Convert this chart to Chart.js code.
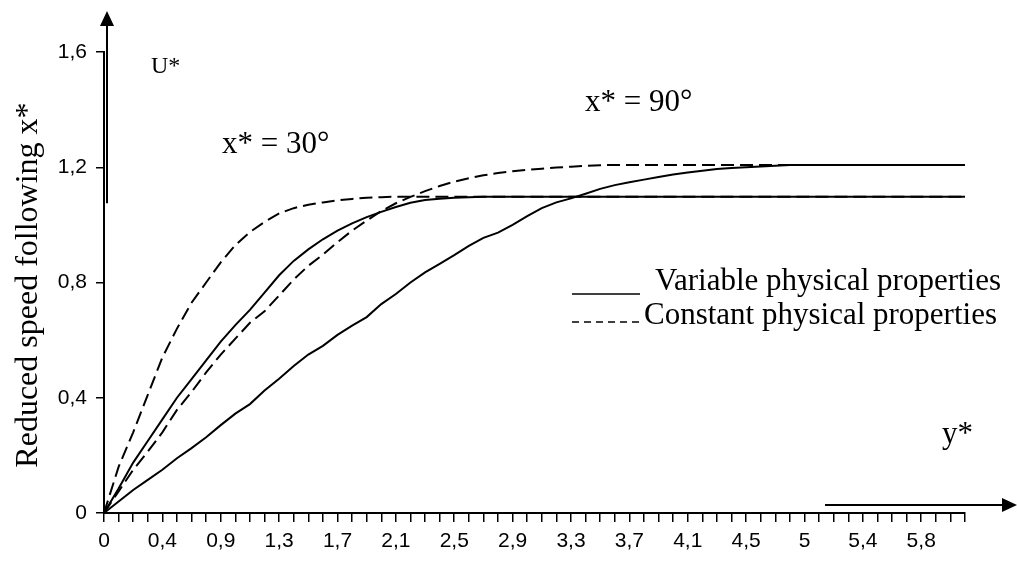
<!DOCTYPE html>
<html>
<head>
<meta charset="utf-8">
<script src="https://cdn.jsdelivr.net/npm/chart.js@4.4.0/dist/chart.umd.min.js"></script>
<style>
  html, body { margin: 0; padding: 0; background: #fff; }
  #wrap { width: 1017px; height: 561px; position: relative; }
</style>
</head>
<body>
<div id="wrap"><canvas id="speed"></canvas></div>
<script>
// y* categories (only every 4th one is labelled on the axis)
const yStar = [
  '0', '0,1', '0,2', '0,3', '0,4', '0,5', '0,6', '0,8', '0,9', '1',
  '1,1', '1,2', '1,3', '1,4', '1,5', '1,6', '1,7', '1,8', '1,9', '2',
  '2,1', '2,2', '2,3', '2,4', '2,5', '2,6', '2,7', '2,8', '2,9', '3',
  '3,1', '3,2', '3,3', '3,4', '3,5', '3,6', '3,7', '3,8', '3,9', '4',
  '4,1', '4,2', '4,3', '4,4', '4,5', '4,6', '4,7', '4,9', '5', '5,1',
  '5,2', '5,3', '5,4', '5,5', '5,6', '5,7', '5,8', '5,9', '6', '6,1'
];
const labelEvery = 4;

// U* profiles
const u30Constant = [
  0, 0.16, 0.28, 0.41, 0.54, 0.64, 0.73, 0.80, 0.87, 0.93,
  0.975, 1.01, 1.04, 1.058, 1.07, 1.078, 1.085, 1.09, 1.094, 1.096,
  1.098, 1.098, 1.098, 1.098, 1.098, 1.098, 1.098, 1.098, 1.098, 1.098,
  1.098, 1.098, 1.098, 1.098, 1.098, 1.098, 1.098, 1.098, 1.098, 1.098,
  1.098, 1.098, 1.098, 1.098, 1.098, 1.098, 1.098, 1.098, 1.098, 1.098,
  1.098, 1.098, 1.098, 1.098, 1.098, 1.098, 1.098, 1.098, 1.098, 1.098
];
const u30Variable = [
  0, 0.085, 0.175, 0.25, 0.325, 0.40, 0.465, 0.53, 0.595, 0.652,
  0.705, 0.765, 0.825, 0.875, 0.915, 0.95, 0.98, 1.005, 1.027, 1.045,
  1.062, 1.077, 1.086, 1.091, 1.094, 1.096, 1.098, 1.098, 1.098, 1.098,
  1.098, 1.098, 1.098, 1.098, 1.098, 1.098, 1.098, 1.098, 1.098, 1.098,
  1.098, 1.098, 1.098, 1.098, 1.098, 1.098, 1.098, 1.098, 1.098, 1.098,
  1.098, 1.098, 1.098, 1.098, 1.098, 1.098, 1.098, 1.098, 1.098, 1.098
];
const u90Constant = [
  0, 0.075, 0.15, 0.213, 0.28, 0.358, 0.42, 0.488, 0.55, 0.605,
  0.66, 0.70, 0.755, 0.81, 0.858, 0.897, 0.94, 0.98, 1.015, 1.048,
  1.075, 1.097, 1.117, 1.135, 1.15, 1.162, 1.172, 1.18, 1.186, 1.191,
  1.195, 1.199, 1.202, 1.205, 1.207, 1.208, 1.208, 1.208, 1.208, 1.208,
  1.208, 1.208, 1.208, 1.208, 1.208, 1.208, 1.208, 1.208, 1.208, 1.208,
  1.208, 1.208, 1.208, 1.208, 1.208, 1.208, 1.208, 1.208, 1.208, 1.208
];
const u90Variable = [
  0, 0.04, 0.08, 0.115, 0.15, 0.19, 0.225, 0.263, 0.305, 0.345,
  0.378, 0.425, 0.466, 0.51, 0.55, 0.58, 0.618, 0.65, 0.68, 0.725,
  0.76, 0.80, 0.835, 0.865, 0.895, 0.927, 0.955, 0.973, 1.00, 1.03,
  1.058, 1.078, 1.092, 1.108, 1.125, 1.138, 1.148, 1.157, 1.166, 1.175,
  1.182, 1.188, 1.194, 1.197, 1.2, 1.203, 1.205, 1.208, 1.208, 1.208,
  1.208, 1.208, 1.208, 1.208, 1.208, 1.208, 1.208, 1.208, 1.208, 1.208
];

const uMax = 1.6;
const uStep = 0.4;

const serif = '"Liberation Serif", "Times New Roman", serif';
Chart.defaults.font.family = '"Liberation Sans", Arial, sans-serif';
Chart.defaults.color = '#000';

// arrows, annotations, hand made legend and the axis title
const decorations = {
  id: 'decorations',
  afterDraw(chart) {
    const { ctx, chartArea: area, scales: { y } } = chart;
    ctx.save();
    ctx.strokeStyle = '#000';
    ctx.fillStyle = '#000';

    // U* arrow
    const ax = area.left + 3;
    ctx.lineWidth = 2;
    ctx.beginPath();
    ctx.moveTo(ax, y.getPixelForValue(1.075));
    ctx.lineTo(ax, 24);
    ctx.stroke();
    ctx.beginPath();
    ctx.moveTo(ax, 11);
    ctx.lineTo(ax - 7, 26);
    ctx.lineTo(ax + 7, 26);
    ctx.closePath();
    ctx.fill();

    // y* arrow
    const ay = area.bottom - 8;
    ctx.beginPath();
    ctx.moveTo(825, ay);
    ctx.lineTo(1004, ay);
    ctx.stroke();
    ctx.beginPath();
    ctx.moveTo(1017, ay);
    ctx.lineTo(1002, ay - 7);
    ctx.lineTo(1002, ay + 7);
    ctx.closePath();
    ctx.fill();

    ctx.textAlign = 'left';
    ctx.textBaseline = 'alphabetic';
    ctx.font = '24px ' + serif;
    ctx.fillText('U*', 151, 73);
    ctx.font = '31px ' + serif;
    ctx.fillText('x* = 30°', 222, 153);
    ctx.fillText('x* = 90°', 585, 111);
    ctx.fillText('y*', 942, 443);

    // legend
    ctx.fillText('Variable physical properties', 655, 290);
    ctx.fillText('Constant physical properties', 644, 324);
    ctx.lineWidth = 1.5;
    ctx.beginPath();
    ctx.moveTo(572, 294);
    ctx.lineTo(640, 294);
    ctx.stroke();
    ctx.setLineDash([7, 5]);
    ctx.beginPath();
    ctx.moveTo(572, 322);
    ctx.lineTo(640, 322);
    ctx.stroke();
    ctx.setLineDash([]);

    // axis title
    ctx.font = '32px ' + serif;
    ctx.translate(37, 285);
    ctx.rotate(-Math.PI / 2);
    ctx.textAlign = 'center';
    ctx.fillText('Reduced speed following x*', 0, 0);
    ctx.restore();
  }
};

function profile(data, dashed) {
  return {
    data: data,
    borderColor: '#000',
    borderWidth: 2,
    borderDash: dashed ? [13, 6] : [],
    pointRadius: 0,
    tension: 0,
    fill: false
  };
}

new Chart(document.getElementById('speed'), {
  type: 'line',
  data: {
    labels: yStar,
    datasets: [
      profile(u30Constant, true),
      profile(u30Variable, false),
      profile(u90Constant, true),
      profile(u90Variable, false)
    ]
  },
  options: {
    responsive: true,
    maintainAspectRatio: false,
    animation: false,
    events: [],
    layout: { padding: { top: 52, right: 52, left: 0, bottom: 0 } },
    plugins: {
      legend: { display: false },
      tooltip: { enabled: false }
    },
    scales: {
      x: {
        offset: false,
        afterFit: (scale) => { scale.height = 48; },
        grid: { drawOnChartArea: false, tickLength: 9, color: '#000', lineWidth: 1.5 },
        border: { display: true, color: '#000', width: 2 },
        ticks: {
          autoSkip: false,
          maxRotation: 0,
          padding: 7,
          font: { size: 21 },
          callback: (value, index) => (index % labelEvery === 0 ? yStar[index] : '')
        }
      },
      y: {
        min: 0,
        max: uMax,
        afterFit: (scale) => { scale.width = 104; },
        grid: { drawOnChartArea: false, tickLength: 8, color: '#000', lineWidth: 1.5 },
        border: { display: true, color: '#000', width: 2 },
        ticks: {
          stepSize: uStep,
          padding: 9,
          font: { size: 21 },
          callback: (value) => (value === 0 ? '0' : value.toFixed(1).replace('.', ','))
        }
      }
    }
  },
  plugins: [decorations]
});
</script>
</body>
</html>
